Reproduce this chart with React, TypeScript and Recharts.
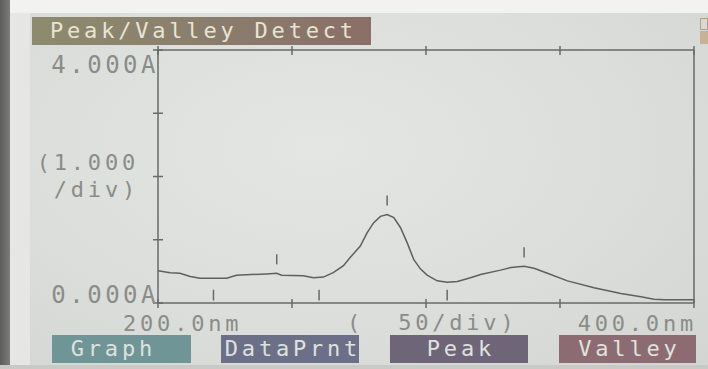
import React from "react";
import { LineChart, Line, XAxis, YAxis, ReferenceLine } from "recharts";

// scan (nm, absorbance)
const wavelength = [
  200, 204.5, 208.2, 212, 215.7, 225.6, 229.3, 240.5, 244.3, 246.1, 254.2, 258,
  261.7, 265.4, 269.2, 271.7, 275.5, 278, 280.5, 283, 285.5, 288, 290.5, 293,
  295.4, 297.9, 300.4, 304.2, 307.9, 311.7, 316.6, 320.4, 327.8, 331.6, 336.6,
  340.3, 345.3, 352.8, 362.7, 372.7, 380.2, 385.1, 388.9, 400,
];
const absorbance = [
  0.51, 0.48, 0.47, 0.42, 0.39, 0.39, 0.44, 0.46, 0.47, 0.44, 0.43, 0.4,
  0.41, 0.48, 0.59, 0.72, 0.9, 1.11, 1.27, 1.37, 1.4, 1.35, 1.19, 0.95,
  0.69, 0.54, 0.44, 0.35, 0.33, 0.34, 0.4, 0.45, 0.52, 0.56, 0.58,
  0.55, 0.47, 0.35, 0.24, 0.15, 0.1, 0.06, 0.05, 0.05,
];

const peakNm = [244.3, 285.5, 336.6];
const peakAbs = [0.47, 1.4, 0.58];
const valleyNm = [220.7, 260.1, 307.9];

const xTicks = [200, 250, 300, 350, 400];
const yTicks = [0, 1, 2, 3, 4];
const buttonLabels = ["Graph", "DataPrnt", "Peak", "Valley"];

const data = wavelength.map((nm, i) => ({ nm, abs: absorbance[i] }));

const INK = "#676a67";
const TEXT = "#8a8c89";
const FONT = '"DejaVu Sans Mono", monospace';

const buttonStyle = [
  { left: 52, width: 139, bg: "#6f9597", pad: 20 },
  { left: 221, width: 138, bg: "#6b6f88", pad: 0 },
  { left: 390, width: 138, bg: "#6e6579", pad: 0 },
  { left: 559, width: 137, bg: "#8d6b73", pad: 0 },
];

const crossTick = (side: "left" | "right" | "top" | "bottom") => (props: any) => {
  const { x, y, payload } = props;
  const v = payload.value;
  const vertical = side === "left" || side === "right";
  let label: React.ReactNode = null;
  const t = { fill: TEXT, fontFamily: FONT, letterSpacing: 3.8, fontSize: 22 };
  if (side === "left" && (v === 0 || v === 4)) {
    label = (
      <text x={x + 1} y={v === 4 ? y + 23 : y} textAnchor="end" {...t} fontSize={24} letterSpacing={3.5}>
        {v.toFixed(3)}A
      </text>
    );
  }
  if (side === "bottom" && v === 200) {
    label = (
      <text x={x - 35} y={y + 28} {...t}>
        {v.toFixed(1)}nm
      </text>
    );
  }
  if (side === "bottom" && v === 400) {
    label = (
      <text x={x + 3} y={y + 28} textAnchor="end" {...t}>
        {v.toFixed(1)}nm
      </text>
    );
  }
  return (
    <g>
      {vertical ? (
        <line x1={x - 5} x2={x + 5} y1={y} y2={y} stroke={INK} strokeWidth={1.5} />
      ) : (
        <line x1={x} x2={x} y1={y - 4} y2={y + 5} stroke={INK} strokeWidth={1.5} />
      )}
      {label}
    </g>
  );
};

const axisCommon = {
  type: "number" as const,
  interval: 0,
  tickSize: 0,
  tickMargin: 0,
  tickLine: false,
  axisLine: { stroke: INK, strokeWidth: 1.5 },
};

export default function App() {
  return (
    <div
      style={{
        position: "absolute",
        left: 0,
        top: 0,
        width: 708,
        height: 369,
        overflow: "hidden",
        fontFamily: FONT,
        background:
          "radial-gradient(ellipse at 45% 40%, #e4e6e3 0%, #dcdedb 55%, #d2d5d1 100%)",
      }}
    >
      {/* photo edges */}
      <div style={{ position: "absolute", left: 0, top: 0, width: 708, height: 13, background: "#f2f2f0" }} />
      <div style={{ position: "absolute", left: 0, top: 0, width: 10, height: 369, background: "linear-gradient(90deg,#5d5e5c,#7c7d7a)" }} />
      <div style={{ position: "absolute", left: 10, top: 13, width: 20, height: 356, background: "#e6e7e4" }} />
      <div style={{ position: "absolute", left: 0, top: 365, width: 708, height: 4, background: "#c9cac6" }} />
      <div style={{ position: "absolute", left: 700, top: 18, width: 8, height: 12, border: "1px solid #b79f82", boxSizing: "border-box" }} />
      <div style={{ position: "absolute", left: 700, top: 31, width: 8, height: 13, background: "#c8b295" }} />

      {/* title bar */}
      <div
        style={{
          position: "absolute",
          left: 32,
          top: 17,
          width: 339,
          height: 28,
          background: "linear-gradient(90deg,#8d8b6e,#8a7b6c 60%,#8a6f67)",
          color: "#e7e4d3",
          fontSize: 22,
          letterSpacing: 3.8,
          lineHeight: "28px",
          paddingLeft: 18,
          boxSizing: "border-box",
          whiteSpace: "pre",
        }}
      >
        Peak/Valley Detect
      </div>

      <div style={{ position: "absolute", left: 0, top: 0 }}>
        <LineChart
          width={708}
          height={369}
          data={data}
          margin={{ top: 49, right: 13, bottom: 65, left: 157 }}
        >
          <XAxis
            {...axisCommon}
            dataKey="nm"
            domain={[200, 400]}
            ticks={xTicks}
            height={1}
            tick={crossTick("bottom")}
          />
          <XAxis
            {...axisCommon}
            xAxisId="top"
            orientation="top"
            dataKey="nm"
            domain={[200, 400]}
            ticks={xTicks}
            height={1}
            tick={crossTick("top")}
          />
          <YAxis
            {...axisCommon}
            domain={[0, 4]}
            ticks={yTicks}
            width={1}
            tick={crossTick("left")}
          />
          <YAxis
            {...axisCommon}
            yAxisId="right"
            orientation="right"
            domain={[0, 4]}
            ticks={yTicks}
            width={1}
            tick={crossTick("right")}
          />
          {peakNm.map((nm, i) => (
            <ReferenceLine
              key={"p" + i}
              segment={[
                { x: nm, y: peakAbs[i] + 0.14 },
                { x: nm, y: peakAbs[i] + 0.3 },
              ]}
              stroke={INK}
              strokeWidth={1.5}
            />
          ))}
          {valleyNm.map((nm, i) => (
            <ReferenceLine
              key={"v" + i}
              segment={[
                { x: nm, y: 0.04 },
                { x: nm, y: 0.21 },
              ]}
              stroke={INK}
              strokeWidth={1.5}
            />
          ))}
          <Line
            type="linear"
            dataKey="abs"
            stroke="#5d605d"
            strokeWidth={1.5}
            dot={false}
            isAnimationActive={false}
          />
        </LineChart>
      </div>

      {/* division captions */}
      <div
        style={{
          position: "absolute",
          left: 0,
          top: 149,
          width: 139,
          textAlign: "right",
          color: TEXT,
          fontSize: 22,
          letterSpacing: 3.8,
          lineHeight: "27px",
          whiteSpace: "pre",
        }}
      >
        {"(1.000\n/div)"}
      </div>
      <div
        style={{
          position: "absolute",
          left: 347,
          top: 309,
          color: TEXT,
          fontSize: 22,
          letterSpacing: 3.8,
          lineHeight: "27px",
          whiteSpace: "pre",
        }}
      >
        {"(  50/div)"}
      </div>

      {/* soft keys */}
      {buttonLabels.map((label, i) => (
        <div
          key={label}
          style={{
            position: "absolute",
            left: buttonStyle[i].left,
            top: 335,
            width: buttonStyle[i].width,
            height: 28,
            background: buttonStyle[i].bg,
            color: "#dfe2de",
            fontSize: 22,
            letterSpacing: 3.8,
            lineHeight: "28px",
            textAlign: "center",
            paddingLeft: 3.8,
            paddingRight: buttonStyle[i].pad,
            boxSizing: "border-box",
            whiteSpace: "pre",
          }}
        >
          {label}
        </div>
      ))}
    </div>
  );
}
